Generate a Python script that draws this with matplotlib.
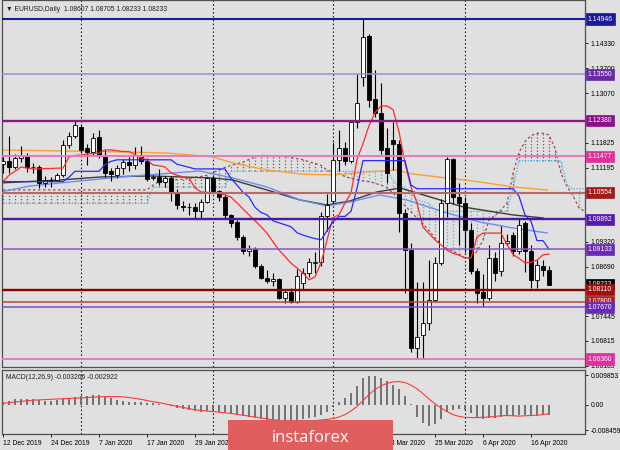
import numpy as np
import matplotlib
matplotlib.use('Agg')
import matplotlib.pyplot as plt
from matplotlib.patches import Rectangle

plt.rcParams['font.family'] = ['Liberation Sans', 'DejaVu Sans']

# ---------------- data ----------------
date_labels = ['12 Dec 2019', '24 Dec 2019', '7 Jan 2020', '17 Jan 2020', '29 Jan 2020',
               '10 Feb 2020', '20 Feb 2020', '3 Mar 2020', '13 Mar 2020', '25 Mar 2020',
               '6 Apr 2020', '16 Apr 2020']
date_pos = [0, 8, 16, 24, 32, 40, 48, 56, 64, 72, 80, 88]
month_sep = [13, 35, 55, 77]

opens = [1.1128, 1.1135, 1.1121, 1.1143, 1.1150, 1.1120, 1.1122, 1.1080, 1.1089, 1.1088,
         1.1100, 1.1177, 1.1200, 1.1222, 1.1168, 1.1160, 1.1196, 1.1152, 1.1110, 1.1101,
         1.1118, 1.1133, 1.1127, 1.1150, 1.1136, 1.1092, 1.1096, 1.1082, 1.1092, 1.1054,
         1.1023, 1.1020, 1.1019, 1.1009, 1.1033, 1.1092, 1.1060, 1.1046, 1.1000, 1.0982,
         1.0944, 1.0909, 1.0914, 1.0872, 1.0840, 1.0832, 1.0837, 1.0790, 1.0804, 1.0780,
         1.0827, 1.0854, 1.0878, 1.0881, 1.0996, 1.1035, 1.1138, 1.1168, 1.1136, 1.1235,
         1.1349, 1.1452, 1.1292, 1.1256, 1.1169, 1.1188, 1.1178, 1.1004, 1.0911, 1.0663,
         1.0697, 1.0726, 1.0785, 1.0878, 1.1030, 1.1140, 1.1045, 1.1030, 1.0962, 1.0857,
         1.0804, 1.0791, 1.0891, 1.0857, 1.0930, 1.0948, 1.0908, 1.0979, 1.0908, 1.0836,
         1.0872, 1.08607]
highs = [1.1146, 1.1200, 1.1153, 1.1175, 1.1155, 1.1130, 1.1125, 1.1097, 1.1096, 1.1105,
         1.1188, 1.1210, 1.1239, 1.1229, 1.1180, 1.1206, 1.1214, 1.1165, 1.1118, 1.1125,
         1.1140, 1.1145, 1.1172, 1.1173, 1.1143, 1.1100, 1.1115, 1.1098, 1.1098, 1.1065,
         1.1036, 1.1030, 1.1030, 1.1040, 1.1096, 1.1097, 1.1064, 1.1052, 1.1003, 1.0986,
         1.0950, 1.0925, 1.0920, 1.0877, 1.0862, 1.0852, 1.0841, 1.0810, 1.0816, 1.0863,
         1.0866, 1.0891, 1.0906, 1.1006, 1.1053, 1.1185, 1.1214, 1.1185, 1.1240, 1.1355,
         1.1496, 1.1458, 1.1366, 1.1332, 1.1219, 1.1235, 1.1190, 1.1015, 1.0930, 1.0831,
         1.0831, 1.0886, 1.0894, 1.1040, 1.1147, 1.1143, 1.1080, 1.1045, 1.0980, 1.0865,
         1.0850, 1.0925, 1.0905, 1.0971, 1.0952, 1.0956, 1.0990, 1.0985, 1.0925, 1.0885,
         1.0887, 1.08705]
lows = [1.1105, 1.1105, 1.1116, 1.1133, 1.1108, 1.1105, 1.1067, 1.1071, 1.1070, 1.1085,
        1.1096, 1.1170, 1.1195, 1.1158, 1.1126, 1.1150, 1.1144, 1.1095, 1.1086, 1.1092,
        1.1104, 1.1110, 1.1117, 1.1128, 1.1085, 1.1087, 1.1076, 1.1071, 1.1036, 1.1016,
        1.1009, 1.1000, 1.0992, 1.0992, 1.1030, 1.1055, 1.1035, 1.0992, 1.0970, 1.0937,
        1.0900, 1.0895, 1.0865, 1.0838, 1.0827, 1.0821, 1.0788, 1.0778, 1.0778, 1.0778,
        1.0812, 1.0843, 1.0852, 1.0870, 1.0960, 1.1030, 1.1110, 1.1125, 1.1130, 1.1220,
        1.1325, 1.1273, 1.1248, 1.1154, 1.1080, 1.1113, 1.0957, 1.0802, 1.0654, 1.0635,
        1.0636, 1.0709, 1.0781, 1.0874, 1.0995, 1.1027, 1.0925, 1.0905, 1.0850, 1.0777,
        1.0769, 1.0785, 1.0832, 1.0845, 1.0925, 1.0895, 1.0900, 1.0856, 1.0815, 1.0815,
        1.0845, 1.08233]
closes = [1.1135, 1.1121, 1.1143, 1.1150, 1.1120, 1.1122, 1.1080, 1.1089, 1.1087, 1.1100,
          1.1177, 1.1200, 1.1226, 1.1164, 1.1160, 1.1195, 1.1152, 1.1105, 1.1104, 1.1118,
          1.1133, 1.1127, 1.1150, 1.1137, 1.1090, 1.1095, 1.1083, 1.1092, 1.1054, 1.1025,
          1.1020, 1.1019, 1.1010, 1.1033, 1.1092, 1.1060, 1.1045, 1.0999, 1.0980, 1.0944,
          1.0908, 1.0914, 1.0871, 1.0840, 1.0832, 1.0838, 1.0791, 1.0805, 1.0780, 1.0845,
          1.0854, 1.0880, 1.0881, 1.0996, 1.1025, 1.1138, 1.1168, 1.1136, 1.1235, 1.1282,
          1.1450, 1.1290, 1.1256, 1.1164, 1.1105, 1.1178, 1.1004, 1.0912, 1.0663, 1.0692,
          1.0726, 1.0785, 1.0878, 1.1029, 1.1140, 1.1045, 1.1030, 1.0962, 1.0857, 1.0802,
          1.0791, 1.0891, 1.0853, 1.0929, 1.0934, 1.0908, 1.0975, 1.0908, 1.0836, 1.0874,
          1.0862, 1.08233]

tenkan = [1.1084, 1.1100, 1.1110, 1.1121, 1.1118, 1.1116, 1.1116, 1.1117, 1.1117, 1.1118,
          1.1118, 1.1146, 1.1150, 1.1151, 1.1153, 1.1155, 1.1156, 1.1164, 1.1164, 1.1162,
          1.1160, 1.1160, 1.1152, 1.1144, 1.1139, 1.1126, 1.1124, 1.1121, 1.1106, 1.1100,
          1.1096, 1.1093, 1.1068, 1.1058, 1.1057, 1.1056, 1.1055, 1.1050, 1.1045, 1.1030,
          1.1015, 1.1000, 1.0985, 1.0970, 1.0954, 1.0932, 1.0911, 1.0895, 1.0878, 1.0866,
          1.0853, 1.0836, 1.0843, 1.0879, 1.0936, 1.0993, 1.1000, 1.1030, 1.1055, 1.1140,
          1.1180, 1.1225, 1.1258, 1.1275, 1.1275, 1.1266, 1.1210, 1.1130, 1.1070, 1.1030,
          1.0969, 1.0953, 1.0937, 1.0924, 1.0911, 1.0903, 1.0898, 1.0892, 1.0891, 1.0944,
          1.0954, 1.0954, 1.0954, 1.0954, 1.0925, 1.0900, 1.0890, 1.0879, 1.0880, 1.0886,
          1.0899, 1.0901]
kijun = ([1.1084] * 11 + [1.1095] + [1.1110] * 5 + [1.1127, 1.1135] + [1.1139] * 10 +
         [1.1128, 1.1124, 1.1120] + [1.1116] * 6 +
         [1.1092, 1.1075, 1.1057, 1.1045, 1.1019, 1.1006, 1.1000, 1.0985, 1.0980, 1.0975,
          1.0970, 1.0955, 1.0949, 1.0944, 1.0940, 1.0937, 1.0960, 1.0982, 1.0996, 1.0996,
          1.1009, 1.1067] + [1.1137] * 8 + [1.1075] + [1.1066] * 17 +
         [1.1047, 1.1000, 1.0984, 1.0935, 1.0935, 1.0913])
span_a = ([1.1063] * 25 +
          [1.1075, 1.1084, 1.1086, 1.1088, 1.1089, 1.1090, 1.1092, 1.1095, 1.1097, 1.1100,
           1.1107, 1.1113, 1.1120, 1.1125, 1.1129, 1.1133, 1.1140, 1.1146, 1.1150, 1.1150,
           1.1149, 1.1148, 1.1148, 1.1145, 1.1142, 1.1139, 1.1134, 1.1130, 1.1125, 1.1113,
           1.1108, 1.1103, 1.1097, 1.1092, 1.1089, 1.1086, 1.1084, 1.1080, 1.1075, 1.1069,
           1.1055, 1.1040, 1.1023, 1.1008, 1.0992, 1.0977, 1.0960, 1.0942, 1.0925, 1.0915,
           1.0908, 1.0901, 1.0890, 1.0892, 1.0908, 1.0936, 1.0988, 1.0998, 1.1012, 1.1030,
           1.1104, 1.1158, 1.1185, 1.1200, 1.1206, 1.1206, 1.1202, 1.1168, 1.1105, 1.1072,
           1.1048, 1.1018, 1.1008])
span_b = ([1.1029] * 25 + [1.1070] * 13 + [1.1110] * 27 + [1.1088, 1.1070, 1.1070, 1.1052,
          1.1039, 1.1033, 1.1030, 1.1014] + [1.1009] * 12 + [1.1067] + [1.1137] * 8 +
          [1.1075] + [1.1066] * 3)

ma_orange_x = [-0.5, 16.2, 27.3, 35, 38.3, 44, 49.5, 55, 60.7, 65.3, 68.3, 74, 79.5, 85, 90.7]
ma_orange_y = [1.11638, 1.11600, 1.11562, 1.11461, 1.11310, 1.11133, 1.11032, 1.11007,
               1.11083, 1.11133, 1.11032, 1.10931, 1.10830, 1.10704, 1.10628]
ma_gray_x = [-0.5, 9.5, 16.2, 24.5, 35, 38.3, 44, 49.5, 54, 57.8, 62.3, 66.2, 71.2, 76.7, 85, 90]
ma_gray_y = [1.10805, 1.10881, 1.10956, 1.10982, 1.10931, 1.10881, 1.10628, 1.10376,
             1.10250, 1.10350, 1.10578, 1.10679, 1.10452, 1.10199, 1.09998, 1.09922]
ma_blue_x = [-0.5, 4.5, 9.5, 19.5, 32.8, 38.3, 44, 49.5, 54, 57.8, 62.8, 67.3, 74, 79.5, 85, 90.7]
ma_blue_y = [1.10578, 1.10729, 1.10805, 1.10956, 1.11108, 1.10931, 1.10704, 1.10376,
             1.10224, 1.10325, 1.10502, 1.10376, 1.10048, 1.09820, 1.09669, 1.09543]

macd_main = [0.0011, 0.0014, 0.0019, 0.0020, 0.0019, 0.0019, 0.0017, 0.0015, 0.0015, 0.0017,
             0.0019, 0.0022, 0.0026, 0.0030, 0.0031, 0.0033, 0.0033, 0.0028, 0.0022, 0.0017,
             0.0014, 0.0011, 0.0010, 0.0011, 0.0008, 0.0006, 0.0003, 0.0001, -0.0004, -0.0009,
             -0.0013, -0.0017, -0.0020, -0.0022, -0.0019, -0.0020, -0.0022, -0.0025, -0.0029, -0.0033,
             -0.0037, -0.0039, -0.0042, -0.0046, -0.0050, -0.0052, -0.0055, -0.0057, -0.0058, -0.0054,
             -0.0047, -0.0045, -0.0041, -0.0033, -0.0022, -0.0008, 0.0010, 0.0025, 0.0041, 0.0063,
             0.0089, 0.0098, 0.0097, 0.0091, 0.0080, 0.0067, 0.0052, 0.0030, 0.0002, -0.0039,
             -0.0059, -0.0070, -0.0063, -0.0048, -0.0024, -0.0017, -0.0012, -0.0017, -0.0028, -0.0039,
             -0.0046, -0.0045, -0.0043, -0.0040, -0.0038, -0.0037, -0.0033, -0.0032, -0.0037, -0.0036,
             -0.0034, -0.003266]
macd_signal = [0.0006, 0.0008, 0.0010, 0.0012, 0.0014, 0.0016, 0.0017, 0.0018, 0.0019, 0.0020,
               0.0021, 0.0022, 0.0023, 0.0024, 0.0025, 0.0026, 0.0027, 0.0028, 0.0028, 0.0028,
               0.0027, 0.0025, 0.0022, 0.0019, 0.0015, 0.0011, 0.0008, 0.0004, 0.0000, -0.0004,
               -0.0008, -0.0012, -0.0016, -0.0018, -0.0020, -0.0022, -0.0024, -0.0026, -0.0028, -0.0031,
               -0.0034, -0.0037, -0.0040, -0.0043, -0.0046, -0.0049, -0.0051, -0.0053, -0.0054, -0.0054,
               -0.0054, -0.0053, -0.0052, -0.0050, -0.0048, -0.0045, -0.0040, -0.0032, -0.0020, -0.0005,
               0.0015, 0.0035, 0.0052, 0.0064, 0.0072, 0.0077, 0.0078, 0.0075, 0.0066, 0.0054,
               0.0038, 0.0020, 0.0004, -0.0010, -0.0022, -0.0032, -0.0038, -0.0041, -0.0042, -0.0042,
               -0.0041, -0.0040, -0.0038, -0.0036, -0.0035, -0.0036, -0.0037, -0.0036, -0.0035, -0.0034,
               -0.0032, -0.002922]

levels = [1.14946, 1.13550, 1.12380, 1.11477, 1.10554, 1.09892, 1.09133, 1.08233,
          1.08110, 1.07800, 1.07670, 1.06360]
level_line_colors = ['#1c1c9a', '#a488cc', '#8a1a8a', '#e07cc0', '#b46a6a', '#4a1a9a',
                     '#8a58c8', None, '#8b0000', '#b04a3a', '#7a50c8', '#e07cc8']
level_box_colors = ['#1a1a9a', '#6a2aa8', '#8b108b', '#e0309a', '#a01c1c', '#5a1ab0',
                    '#6a2ab8', '#000000', '#a01010', '#b02020', '#6a2ab8', '#e030a0']
level_widths = [1.5, 1.1, 1.7, 1.4, 1.5, 1.7, 1.1, 0, 1.7, 1.1, 1.1, 1.4]

price_ticks = [1.14330, 1.13700, 1.13070, 1.11825, 1.11195,
               1.09320, 1.08690, 1.07445, 1.06815, 1.06185]
macd_ticks = [0.009853, 0.0, -0.008459]
macd_tick_labels = ['0.009853', '0.00', '-0.008459']

header = '\u25BC EURUSD,Daily  1.08607 1.08705 1.08233 1.08233'
macd_header = 'MACD(12,26,9) -0.003266 -0.002922'

# ---------------- figure ----------------
BG = '#e0e0e0'
W, H = 620, 450
fig = plt.figure(figsize=(6.2, 4.5), dpi=100, facecolor=BG)


def fbox(x0, y0, x1, y1):
    return [x0 / W, 1 - y1 / H, (x1 - x0) / W, (y1 - y0) / H]


ax = fig.add_axes(fbox(1.5, 0, 585, 367), facecolor=BG)
ax2 = fig.add_axes(fbox(1.5, 370, 585, 434), facecolor=BG, sharex=ax)
FS = 4.9

# cloud hatch
n_cloud = len(span_a)
ci = np.arange(n_cloud)
sa = np.array(span_a)
sb = np.array(span_b)
up_k = sa >= sb
brown = '#a04848'
cyan = '#30bce8'
ax.vlines(ci[up_k], sb[up_k], sa[up_k], colors=brown, lw=0.9, linestyles=(0, (1, 1.6)), zorder=1)
ax.vlines(ci[~up_k], sa[~up_k], sb[~up_k], colors=cyan, lw=0.9, linestyles=(0, (1, 1.6)), zorder=1)
ax.plot(ci, sa, color=brown, lw=0.9, ls=(0, (2, 2)), zorder=1.5)
ax.plot(ci, sb, color=cyan, lw=0.9, ls=(0, (1, 1.3)), zorder=1.5)

# moving averages
ax.plot(ma_orange_x, ma_orange_y, color='#ff9f30', lw=1.0, zorder=2)
ax.plot(ma_gray_x, ma_gray_y, color='#3c3c3c', lw=1.0, zorder=2)
ax.plot(ma_blue_x, ma_blue_y, color='#6a8ff0', lw=1.0, zorder=2)

# month separators
for s in month_sep:
    ax.axvline(s, color='#202020', lw=0.8, ls=(0, (1.5, 2)), zorder=1.8)
    ax2.axvline(s, color='#202020', lw=0.8, ls=(0, (1.5, 2)), zorder=1.8)

# candles
idx = np.arange(len(opens))
o = np.array(opens); h = np.array(highs); lo = np.array(lows); c = np.array(closes)
bull = c >= o
ax.vlines(idx, lo, h, colors='black', lw=0.8, zorder=3)
bb = np.minimum(o, c)
bh = np.maximum(np.abs(c - o), 0.00008)
ax.bar(idx[bull], bh[bull], bottom=bb[bull], width=0.62, color='white',
       edgecolor='black', lw=0.6, zorder=3.2)
ax.bar(idx[~bull], bh[~bull], bottom=bb[~bull], width=0.62, color='black',
       edgecolor='black', lw=0.6, zorder=3.2)

# ichimoku tenkan / kijun
ax.plot(idx, tenkan, color='#ff2a2a', lw=0.9, zorder=4)
ax.plot(idx, kijun, color='#2a2aff', lw=0.9, zorder=4)

# horizontal levels
ytr = ax.get_yaxis_transform()
for lv, lc, lw in zip(levels, level_line_colors, level_widths):
    if lc is not None:
        ax.axhline(lv, color=lc, lw=lw, zorder=5)
for lv, bc in zip(levels, level_box_colors):
    ax.text(1.0045, lv, f'{lv:.5f}', transform=ytr, ha='left', va='center', fontsize=FS,
            color='white', clip_on=False, zorder=6,
            bbox=dict(boxstyle='square,pad=0.3', fc=bc, ec=bc, lw=0.5))

ax.set_xlim(-0.25, 97)
ax.set_ylim(1.06158, 1.15426)
ax.yaxis.tick_right()
ax.set_yticks(price_ticks)
ax.set_yticklabels([f'{t:.5f}' for t in price_ticks])
ax.tick_params(axis='y', labelsize=FS, length=2.5, width=0.6, pad=1.5, colors='black')
ax.tick_params(axis='x', bottom=False, labelbottom=False)
for sp in ax.spines.values():
    sp.set_color('#505050'); sp.set_linewidth(0.9)
ax.text(0.008, 0.985, header, transform=ax.transAxes, fontsize=FS, color='#202020',
        ha='left', va='top', zorder=7)

# MACD panel
ax2.vlines(idx, 0, macd_main, colors='#606060', lw=1.2, zorder=2)
ax2.plot(idx, macd_signal, color='#ff3a3a', lw=0.8, zorder=3)
ax2.set_ylim(-0.009667, 0.011667)
ax2.yaxis.tick_right()
ax2.set_yticks(macd_ticks)
ax2.set_yticklabels(macd_tick_labels)
ax2.tick_params(axis='y', labelsize=FS, length=2.5, width=0.6, pad=1.5)
ax2.set_xticks(date_pos)
ax2.set_xticklabels(date_labels)
for lbl in ax2.get_xticklabels():
    lbl.set_horizontalalignment('left')
ax2.tick_params(axis='x', labelsize=FS, length=2.5, width=0.6, pad=1.5)
for sp in ax2.spines.values():
    sp.set_color('#505050'); sp.set_linewidth(0.9)
ax2.text(0.008, 0.93, macd_header, transform=ax2.transAxes, fontsize=FS, color='#202020',
         ha='left', va='top')

# watermark
fig.add_artist(Rectangle((228 / W, -0.01), 165 / W, 30 / H + 0.01, transform=fig.transFigure,
                         facecolor='#e05e5e', edgecolor='none', zorder=20))
fig.text(310.5 / W, 1 - 442 / H, 'instaforex', color='white', fontsize=12,
         family=['Open Sans', 'DejaVu Sans'], ha='center', va='baseline', zorder=21)

fig.savefig('out.png', dpi=100, facecolor=BG)
